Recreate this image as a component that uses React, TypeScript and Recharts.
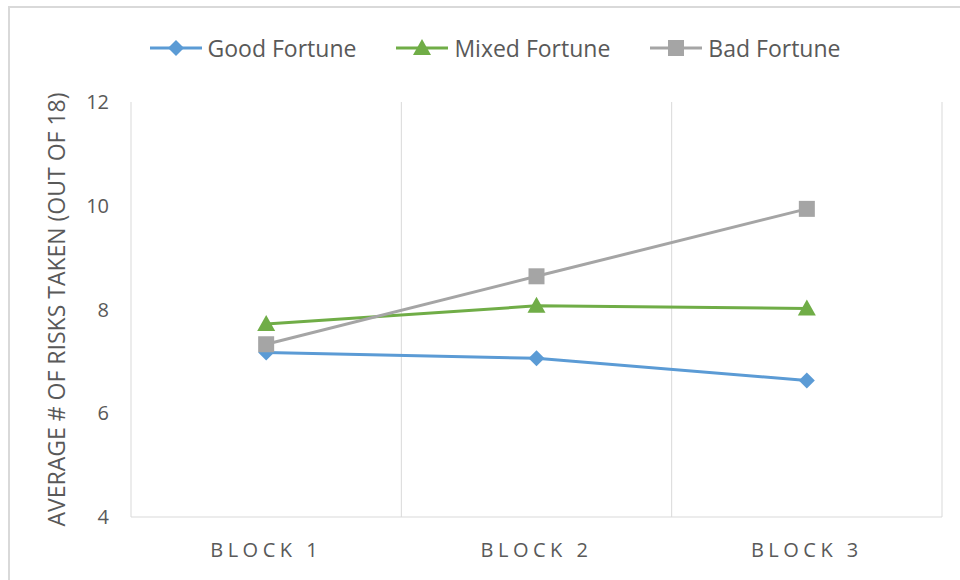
import React from "react";
import { LineChart, Line, XAxis, YAxis, CartesianGrid, Legend } from "recharts";

const CATEGORIES = ["BLOCK 1", "BLOCK 2", "BLOCK 3"];
const GOOD = [7.17, 7.06, 6.63];
const MIXED = [7.72, 8.07, 8.02];
const BAD = [7.33, 8.64, 9.94];
const Y_TICKS = [4, 6, 8, 10, 12];

const SERIES = [
  { key: "good", name: "Good Fortune", color: "#5b9bd5", shape: "diamond" },
  { key: "mixed", name: "Mixed Fortune", color: "#70ad47", shape: "triangle" },
  { key: "bad", name: "Bad Fortune", color: "#a5a5a5", shape: "square" },
];

const data = CATEGORIES.map((block, i) => ({
  block,
  good: GOOD[i],
  mixed: MIXED[i],
  bad: BAD[i],
}));

const FONT = "'Open Sans', sans-serif";
const TEXT = "#595959";
const GRID = "#d9d9d9";

function marker(shape: string, cx: number, cy: number, color: string, key?: any) {
  if (shape === "diamond") {
    const r = 8;
    return <path key={key} d={`M${cx},${cy - r}L${cx + r},${cy}L${cx},${cy + r}L${cx - r},${cy}Z`} fill={color} />;
  }
  if (shape === "triangle") {
    return <path key={key} d={`M${cx},${cy - 9}L${cx + 9},${cy + 7}L${cx - 9},${cy + 7}Z`} fill={color} />;
  }
  return <rect key={key} x={cx - 8} y={cy - 8} width={16} height={16} fill={color} />;
}

function LegendBox() {
  return (
    <div style={{ display: "flex", justifyContent: "center", gap: 40, fontFamily: FONT, fontSize: 23, color: TEXT, marginLeft: 30 }}>
      {SERIES.map((s) => (
        <div key={s.key} style={{ display: "flex", alignItems: "center", gap: 6 }}>
          <svg width={52} height={20}>
            <line x1={0} y1={10} x2={52} y2={10} stroke={s.color} strokeWidth={3} />
            {marker(s.shape, 26, 10, s.color)}
          </svg>
          <span>{s.name}</span>
        </div>
      ))}
    </div>
  );
}

export default function App() {
  return (
    <div style={{ position: "absolute", left: 0, top: 0, width: 960, height: 580, overflow: "hidden", background: "#fff" }}>
      <div style={{ position: "absolute", left: 8, top: 6, width: 1000, height: 620, border: `2px solid ${GRID}` }} />
      <div style={{ position: "absolute", left: 0, top: 0 }}>
        <LineChart width={960} height={580} data={data} margin={{ top: 102, right: 18, bottom: 33, left: 81 }}>
          <CartesianGrid
            horizontal={false}
            stroke={GRID}
            strokeWidth={1}
            verticalCoordinatesGenerator={({ offset }: any) =>
              CATEGORIES.map((_, i) => offset.left + (offset.width * (i + 1)) / CATEGORIES.length)
            }
          />
          <XAxis
            dataKey="block"
            scale="band"
            axisLine={{ stroke: GRID }}
            tickLine={false}
            tickSize={0}
            tickMargin={26}
            height={30}
            tick={{ fill: TEXT, fontSize: 20, fontFamily: FONT, letterSpacing: 4.5 }}
          />
          <YAxis
            domain={[4, 12]}
            ticks={Y_TICKS}
            width={50}
            axisLine={{ stroke: GRID }}
            tickLine={false}
            tickSize={0}
            tickMargin={22}
            tick={{ fill: TEXT, fontSize: 20, fontFamily: FONT }}
            label={{
              value: "AVERAGE # OF RISKS TAKEN (OUT OF 18)",
              angle: -90,
              position: "center",
              dx: -49,
              style: { fill: TEXT, fontSize: 23, fontFamily: FONT, textAnchor: "middle" },
            }}
          />
          <Legend
            verticalAlign="middle"
            align="center"
            layout="horizontal"
            wrapperStyle={{ top: 32, left: 0, width: 960 }}
            content={() => <LegendBox />}
          />
          {SERIES.map((s) => (
            <Line
              key={s.key}
              type="linear"
              dataKey={s.key}
              name={s.name}
              stroke={s.color}
              strokeWidth={3}
              isAnimationActive={false}
              dot={(p: any) => marker(s.shape, p.cx, p.cy, s.color, `${s.key}-${p.index}`)}
              activeDot={false}
            />
          ))}
        </LineChart>
      </div>
    </div>
  );
}
